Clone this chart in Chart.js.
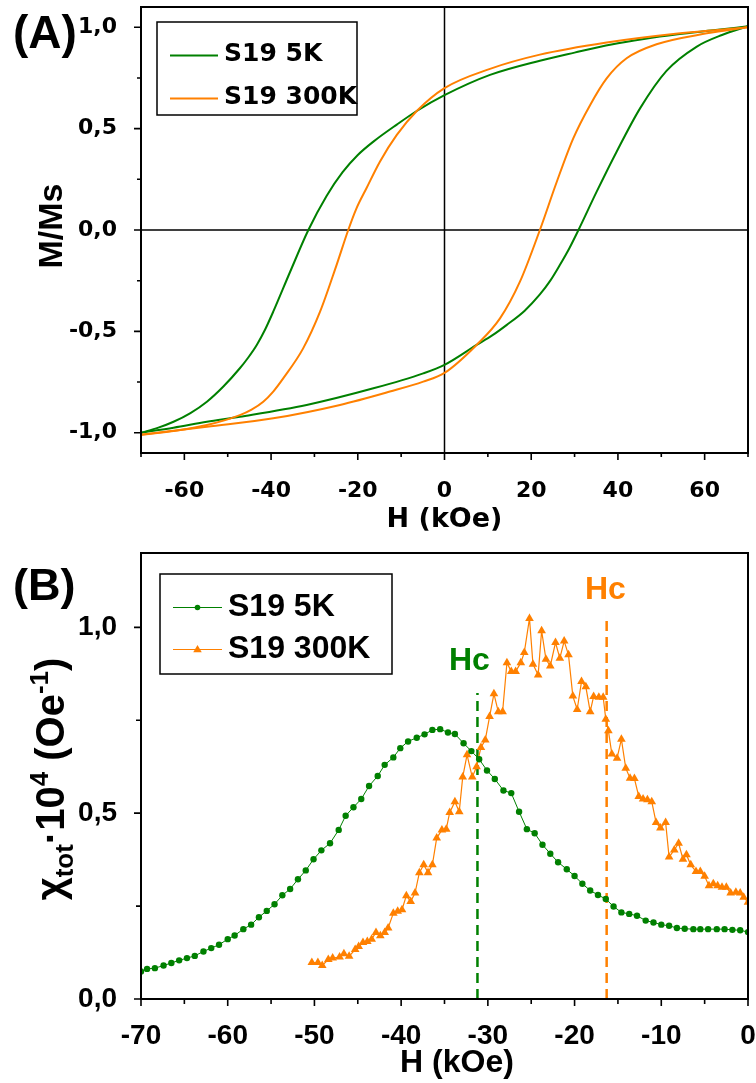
<!DOCTYPE html>
<html>
<head>
<meta charset="utf-8">
<script src="https://cdn.jsdelivr.net/npm/chart.js@4.4.1/dist/chart.umd.min.js"></script>
<style>
  html, body { margin: 0; padding: 0; background: #ffffff; }
  #wrapA { position: absolute; left: 0; top: 0; width: 756px; height: 540px; }
  #wrapB { position: absolute; left: 0; top: 540px; width: 756px; height: 543px; }
</style>
</head>
<body>
<div id="wrapA"><canvas id="chartA" width="756" height="540"></canvas></div>
<div id="wrapB"><canvas id="chartB" width="756" height="543"></canvas></div>
<script>
// ---------------- Panel (A): hysteresis loops M/Ms vs H (kOe) ----------------
const seriesNames = ['S19 5K', 'S19 300K'];

// S19 5K, descending-field branch (sorted by H)
const hA5Kdown = [-70, -66, -62.5, -58.6, -54.8, -51, -47.2, -45.3, -43.3, -41.4, -39.5, -35.6, -31.4, -27.2, -23.5, -20, -16.4, -11.0, -6.4, 0, 10.5, 22, 30, 38.5, 46, 53.8, 62, 70];
const mA5Kdown = [-1.0, -0.975, -0.946, -0.903, -0.847, -0.772, -0.682, -0.630, -0.567, -0.492, -0.403, -0.206, 0.0, 0.168, 0.285, 0.37, 0.436, 0.52, 0.587, 0.665, 0.765, 0.835, 0.875, 0.915, 0.942, 0.965, 0.985, 1.005];
// S19 5K, ascending-field branch
const hA5Kup = [-70, -62.5, -54.8, -47.2, -31.8, -16.4, -4.9, 0, 7.4, 11, 14.3, 18.5, 22.0, 24.4, 26.6, 28.8, 30.9, 35.1, 39.7, 45.1, 51.2, 58.2, 64, 70];
const mA5Kup = [-1.0, -0.975, -0.946, -0.921, -0.863, -0.781, -0.707, -0.665, -0.567, -0.52, -0.469, -0.398, -0.318, -0.25, -0.173, -0.09, 0.0, 0.189, 0.386, 0.6, 0.785, 0.905, 0.962, 1.005];
// S19 300K, descending-field branch
const hA300Kdown = [-70, -62, -54.8, -47.2, -44.5, -41.8, -39.5, -37.2, -32.6, -28.7, -24.9, -22.2, -20.3, -18.0, -14.9, -11.0, -6.4, 0, 10.5, 22, 37.4, 52.8, 70];
const mA300Kdown = [-1.01, -0.99, -0.962, -0.913, -0.886, -0.847, -0.797, -0.732, -0.584, -0.403, -0.173, 0.0, 0.107, 0.206, 0.337, 0.469, 0.587, 0.70, 0.795, 0.865, 0.925, 0.967, 1.0];
// S19 300K, ascending-field branch
const hA300Kup = [-70, -54.8, -39.5, -24.1, -12.6, -4.9, 0, 7.4, 12.8, 17.4, 22.0, 25.9, 29.7, 33.6, 37.4, 42.0, 48.9, 60.5, 70];
const mA300Kup = [-1.01, -0.97, -0.929, -0.863, -0.797, -0.748, -0.705, -0.567, -0.436, -0.255, 0.0, 0.238, 0.452, 0.617, 0.748, 0.847, 0.916, 0.97, 1.0];

// ---------------- Panel (B): susceptibility chi_tot*10^4 vs H (kOe) ----------------
const hB5K = [-70.0,-69.3,-68.4,-67.4,-66.5,-65.6,-64.7,-63.8,-62.8,-61.9,-61.0,-60.0,-59.2,-58.2,-57.3,-56.4,-55.5,-54.6,-53.7,-52.8,-51.9,-51.0,-50.1,-49.2,-48.2,-47.2,-46.4,-45.5,-44.6,-43.7,-42.7,-41.9,-40.9,-40.1,-39.2,-38.2,-37.3,-36.4,-35.5,-34.6,-33.8,-32.8,-31.9,-31.0,-30.1,-29.2,-28.2,-27.3,-26.4,-25.5,-24.6,-23.7,-22.8,-21.9,-20.9,-20.0,-19.1,-18.2,-17.3,-16.4,-15.5,-14.6,-13.7,-12.8,-11.8,-10.9,-10.0,-9.1,-8.2,-7.3,-6.3,-5.5,-4.6,-3.6,-2.7,-1.8,-0.9,0.0];
const chiB5K = [0.074,0.081,0.083,0.090,0.097,0.104,0.110,0.116,0.128,0.137,0.146,0.161,0.171,0.188,0.200,0.220,0.237,0.255,0.279,0.296,0.322,0.346,0.376,0.400,0.419,0.455,0.493,0.516,0.538,0.573,0.600,0.630,0.650,0.675,0.693,0.703,0.712,0.724,0.726,0.717,0.713,0.688,0.667,0.645,0.615,0.592,0.561,0.554,0.504,0.457,0.446,0.415,0.391,0.368,0.349,0.331,0.310,0.292,0.280,0.269,0.249,0.233,0.229,0.224,0.211,0.206,0.200,0.197,0.191,0.189,0.188,0.188,0.188,0.188,0.188,0.186,0.185,0.180];

const hB300K = [-50.3,-49.6,-49.1,-48.4,-47.9,-47.1,-46.6,-46.0,-45.3,-44.9,-44.4,-43.9,-43.4,-42.9,-42.4,-41.9,-41.5,-40.9,-40.4,-39.9,-39.4,-38.9,-38.4,-37.9,-37.4,-36.9,-36.4,-35.9,-35.3,-34.8,-34.4,-33.8,-33.3,-32.9,-32.4,-31.8,-31.3,-30.8,-30.3,-29.8,-29.3,-28.8,-28.3,-27.8,-27.3,-26.8,-26.2,-25.8,-25.2,-24.8,-24.2,-23.8,-23.3,-22.8,-22.2,-21.7,-21.2,-20.7,-20.2,-19.7,-19.2,-18.7,-18.2,-17.8,-17.2,-16.7,-16.4,-16.1,-15.7,-15.1,-14.6,-14.1,-13.6,-13.1,-12.6,-12.1,-11.6,-11.1,-10.6,-10.1,-9.5,-9.1,-8.5,-8.0,-7.5,-7.1,-6.6,-6.0,-5.5,-5.0,-4.5,-4.0,-3.5,-3.0,-2.5,-2.0,-1.4,-0.9,-0.5,0.0];
const chiB300K = [0.098,0.098,0.090,0.106,0.110,0.113,0.122,0.115,0.133,0.141,0.152,0.155,0.161,0.179,0.170,0.179,0.191,0.231,0.236,0.240,0.278,0.262,0.285,0.340,0.361,0.340,0.361,0.433,0.455,0.457,0.502,0.531,0.504,0.597,0.657,0.597,0.625,0.677,0.697,0.760,0.821,0.773,0.773,0.905,0.881,0.881,0.905,0.932,1.024,0.901,0.872,0.991,0.914,0.896,0.959,0.917,0.963,0.926,0.815,0.779,0.854,0.840,0.773,0.814,0.812,0.812,0.753,0.722,0.659,0.648,0.699,0.621,0.594,0.593,0.545,0.538,0.536,0.531,0.475,0.460,0.475,0.382,0.401,0.419,0.376,0.388,0.361,0.343,0.343,0.330,0.305,0.310,0.305,0.301,0.301,0.285,0.287,0.285,0.274,0.260];

// Coercive field markers (H, top of dashed line)
const hcH = [-31.2, -16.3];
const hcTop = [0.823, 1.017];

// Tick settings
const xTicksA = { min: -70, max: 70, step: 10, labelEvery: 20 };
const yTicksA = { min: -1.1, max: 1.1, step: 0.25, labelEvery: 0.5 };
const xTicksB = { min: -70, max: 0, step: 5, labelEvery: 10 };
const yTicksB = { min: 0, max: 1.2, step: 0.25, labelEvery: 0.5 };

// ---------------- helpers ----------------
const GREEN = '#008000';
const ORANGE = '#FF8000';
const FA = '"DejaVu Sans"';
const FB = '"Liberation Sans"';

function pts(xs, ys) { return xs.map((x, i) => ({ x: x, y: ys[i] })); }
function isMult(v, m) { const r = v / m; return Math.abs(r - Math.round(r)) < 1e-6; }
function commaFmt(v) { return (Math.abs(v) < 1e-9 ? 0 : v).toFixed(1).replace('.', ','); }
function zeroPad(s) { s.paddingLeft = 0; s.paddingRight = 0; s.paddingTop = 0; s.paddingBottom = 0; }

function drawFrameTicks(chart, lenMaj, lenMin) {
  const { ctx, chartArea: a, scales: { x, y } } = chart;
  ctx.save();
  ctx.strokeStyle = '#000';
  ctx.lineWidth = 1.6;
  ctx.beginPath();
  x.ticks.forEach(t => {
    const p = x.getPixelForValue(t.value);
    const L = t.label !== '' ? lenMaj : lenMin;
    ctx.moveTo(p, a.bottom); ctx.lineTo(p, a.bottom + L);
  });
  y.ticks.forEach(t => {
    const p = y.getPixelForValue(t.value);
    const L = t.label !== '' ? lenMaj : lenMin;
    ctx.moveTo(a.left, p); ctx.lineTo(a.left - L, p);
  });
  ctx.stroke();
  ctx.lineWidth = 2;
  ctx.strokeRect(a.left, a.top, a.right - a.left, a.bottom - a.top);
  ctx.restore();
}

function drawRotatedRich(ctx, baseX, centerY, parts) {
  ctx.save();
  let total = 0;
  parts.forEach(p => { ctx.font = 'bold ' + p.size + 'px ' + p.family; p.w = ctx.measureText(p.t).width; total += p.w; });
  ctx.translate(baseX, centerY);
  ctx.rotate(-Math.PI / 2);
  ctx.textBaseline = 'alphabetic';
  ctx.textAlign = 'left';
  ctx.fillStyle = '#000';
  let cx = -total / 2;
  parts.forEach(p => {
    ctx.font = 'bold ' + p.size + 'px ' + p.family;
    ctx.fillText(p.t, cx, p.dy || 0);
    cx += p.w;
  });
  ctx.restore();
}

function makeTickCfg(spec, fam, size, pad, fmt) {
  return {
    stepSize: spec.step, autoSkip: false, maxRotation: 0, minRotation: 0, includeBounds: false,
    padding: pad, color: '#000', font: { family: fam, weight: 'bold', size: size },
    callback: (v) => isMult(v, spec.labelEvery) ? fmt(v) : ''
  };
}

// ---------------- Chart A ----------------
const decorA = {
  id: 'decorA',
  beforeDatasetsDraw(chart) {
    const { ctx, chartArea: a, scales: { x, y } } = chart;
    ctx.save();
    ctx.strokeStyle = '#000';
    ctx.lineWidth = 1.5;
    const x0 = x.getPixelForValue(0), y0 = y.getPixelForValue(0);
    ctx.beginPath();
    ctx.moveTo(x0, a.top); ctx.lineTo(x0, a.bottom);
    ctx.moveTo(a.left, y0); ctx.lineTo(a.right, y0);
    ctx.stroke();
    ctx.restore();
  },
  afterDraw(chart) {
    const { ctx, chartArea: a } = chart;
    drawFrameTicks(chart, 7, 4);
    ctx.save();
    ctx.fillStyle = '#000';
    ctx.font = 'bold 27px ' + FA;
    ctx.textAlign = 'center'; ctx.textBaseline = 'middle';
    ctx.fillText('H (kOe)', (a.left + a.right) / 2, 520);
    ctx.font = 'bold 46px ' + FB;
    ctx.textAlign = 'left'; ctx.textBaseline = 'alphabetic';
    ctx.fillText('(A)', 13, 48);
    const bx = 157, by = 22, bw = 200, bh = 93;
    ctx.lineWidth = 1.5; ctx.strokeStyle = '#000';
    ctx.strokeRect(bx, by, bw, bh);
    const rows = [{ c: GREEN, t: seriesNames[0], y: 55.5 }, { c: ORANGE, t: seriesNames[1], y: 98.5 }];
    ctx.font = 'bold 25px ' + FA;
    ctx.textBaseline = 'middle';
    rows.forEach(r => {
      ctx.strokeStyle = r.c; ctx.lineWidth = 2;
      ctx.beginPath(); ctx.moveTo(170, r.y); ctx.lineTo(218, r.y); ctx.stroke();
      ctx.fillStyle = '#000';
      ctx.fillText(r.t, 224, r.y - 1.5);
    });
    ctx.restore();
    drawRotatedRich(ctx, 62, 226, [{ t: 'M/Ms', size: 34, family: FB }]);
  }
};

const lineA = { showLine: true, borderWidth: 2, pointRadius: 0, cubicInterpolationMode: 'monotone' };

new Chart(document.getElementById('chartA'), {
  type: 'scatter',
  data: {
    datasets: [
      Object.assign({ label: seriesNames[1], data: pts(hA300Kdown, mA300Kdown), borderColor: ORANGE, order: 0 }, lineA),
      Object.assign({ label: seriesNames[1], data: pts(hA300Kup, mA300Kup), borderColor: ORANGE, order: 0 }, lineA),
      Object.assign({ label: seriesNames[0], data: pts(hA5Kdown, mA5Kdown), borderColor: GREEN, order: 1 }, lineA),
      Object.assign({ label: seriesNames[0], data: pts(hA5Kup, mA5Kup), borderColor: GREEN, order: 1 }, lineA)
    ]
  },
  options: {
    responsive: false, animation: false, devicePixelRatio: 1,
    layout: { padding: { top: 7, right: 8, left: 0, bottom: 0 } },
    plugins: { legend: { display: false }, tooltip: { enabled: false } },
    scales: {
      x: {
        type: 'linear', min: xTicksA.min, max: xTicksA.max,
        afterFit(s) { s.height = 87; zeroPad(s); },
        grid: { display: false }, border: { display: false },
        ticks: makeTickCfg(xTicksA, 'DejaVu Sans', 22, 17, v => String(Math.round(v)))
      },
      y: {
        type: 'linear', min: yTicksA.min, max: yTicksA.max,
        afterFit(s) { s.width = 141; zeroPad(s); },
        grid: { display: false }, border: { display: false },
        ticks: makeTickCfg(yTicksA, 'DejaVu Sans', 22, 16, commaFmt)
      }
    }
  },
  plugins: [decorA]
});

// ---------------- Chart B ----------------
const triSample = (ctx, cx, cy, r, color) => {
  ctx.fillStyle = color;
  ctx.beginPath();
  ctx.moveTo(cx, cy - r);
  ctx.lineTo(cx + r * 0.95, cy + r * 0.6);
  ctx.lineTo(cx - r * 0.95, cy + r * 0.6);
  ctx.closePath(); ctx.fill();
};

const decorB = {
  id: 'decorB',
  afterDraw(chart) {
    const { ctx } = chart;
    drawFrameTicks(chart, 7, 5);
    ctx.save();
    ctx.fillStyle = '#000';
    ctx.font = 'bold 32px ' + FB;
    ctx.textAlign = 'center'; ctx.textBaseline = 'middle';
    ctx.fillText('H (kOe)', 457, 523);
    ctx.font = 'bold 45px ' + FB;
    ctx.textAlign = 'left'; ctx.textBaseline = 'alphabetic';
    ctx.fillText('(B)', 13, 60);
    ctx.font = 'bold 32px ' + FB;
    ctx.textBaseline = 'middle';
    ctx.fillStyle = GREEN; ctx.fillText('Hc', 449, 121);
    ctx.fillStyle = ORANGE; ctx.fillText('Hc', 585, 50);
    ctx.lineWidth = 1.5; ctx.strokeStyle = '#000';
    ctx.strokeRect(160, 34, 232, 100);
    ctx.font = 'bold 32px ' + FB;
    const rows = [{ c: GREEN, t: seriesNames[0], y: 67.5, m: 'c' }, { c: ORANGE, t: seriesNames[1], y: 109.5, m: 't' }];
    rows.forEach(r => {
      ctx.strokeStyle = r.c; ctx.lineWidth = 1.2;
      ctx.beginPath(); ctx.moveTo(173, r.y); ctx.lineTo(222, r.y); ctx.stroke();
      if (r.m === 'c') { ctx.fillStyle = r.c; ctx.beginPath(); ctx.arc(197.5, r.y, 2.8, 0, Math.PI * 2); ctx.fill(); }
      else { triSample(ctx, 197.5, r.y, 4.5, r.c); }
      ctx.fillStyle = '#000';
      ctx.fillText(r.t, 228, r.y);
    });
    ctx.restore();
    drawRotatedRich(ctx, 64, 239, [
      { t: 'χ', size: 40, family: FB },
      { t: 'tot', size: 26, family: FB, dy: 9 },
      { t: '·', size: 40, family: FB },
      { t: '10', size: 40, family: FB },
      { t: '4', size: 26, family: FB, dy: -16 },
      { t: ' (Oe', size: 40, family: FB },
      { t: '-1', size: 26, family: FB, dy: -16 },
      { t: ')', size: 40, family: FB }
    ]);
  }
};

new Chart(document.getElementById('chartB'), {
  type: 'scatter',
  data: {
    datasets: [
      { label: seriesNames[0], data: pts(hB5K, chiB5K), showLine: true, borderColor: GREEN, borderWidth: 1, pointStyle: 'circle', pointRadius: 3.2, pointBackgroundColor: GREEN, pointBorderWidth: 0, tension: 0, order: 0 },
      { label: seriesNames[1], data: pts(hB300K, chiB300K), showLine: true, borderColor: ORANGE, borderWidth: 1.2, pointStyle: 'triangle', pointRadius: 5, pointBackgroundColor: ORANGE, pointBorderWidth: 0, tension: 0, order: 1 },
      { label: 'Hc 5K', data: [{ x: hcH[0], y: 0 }, { x: hcH[0], y: hcTop[0] }], showLine: true, borderColor: GREEN, borderWidth: 2.5, borderDash: [10, 6], pointRadius: 0, order: 2 },
      { label: 'Hc 300K', data: [{ x: hcH[1], y: 0 }, { x: hcH[1], y: hcTop[1] }], showLine: true, borderColor: ORANGE, borderWidth: 2.5, borderDash: [10, 6], pointRadius: 0, order: 2 }
    ]
  },
  options: {
    responsive: false, animation: false, devicePixelRatio: 1,
    layout: { padding: { top: 13, right: 8, left: 0, bottom: 0 } },
    plugins: { legend: { display: false }, tooltip: { enabled: false } },
    scales: {
      x: {
        type: 'linear', min: xTicksB.min, max: xTicksB.max,
        afterFit(s) { s.height = 84; zeroPad(s); },
        grid: { display: false }, border: { display: false },
        ticks: makeTickCfg(xTicksB, 'Liberation Sans', 28, 12, v => String(Math.round(v)))
      },
      y: {
        type: 'linear', min: yTicksB.min, max: yTicksB.max,
        afterFit(s) { s.width = 141; zeroPad(s); },
        grid: { display: false }, border: { display: false },
        ticks: makeTickCfg(yTicksB, 'Liberation Sans', 28, 16, commaFmt)
      }
    }
  },
  plugins: [decorB]
});
</script>
</body>
</html>
